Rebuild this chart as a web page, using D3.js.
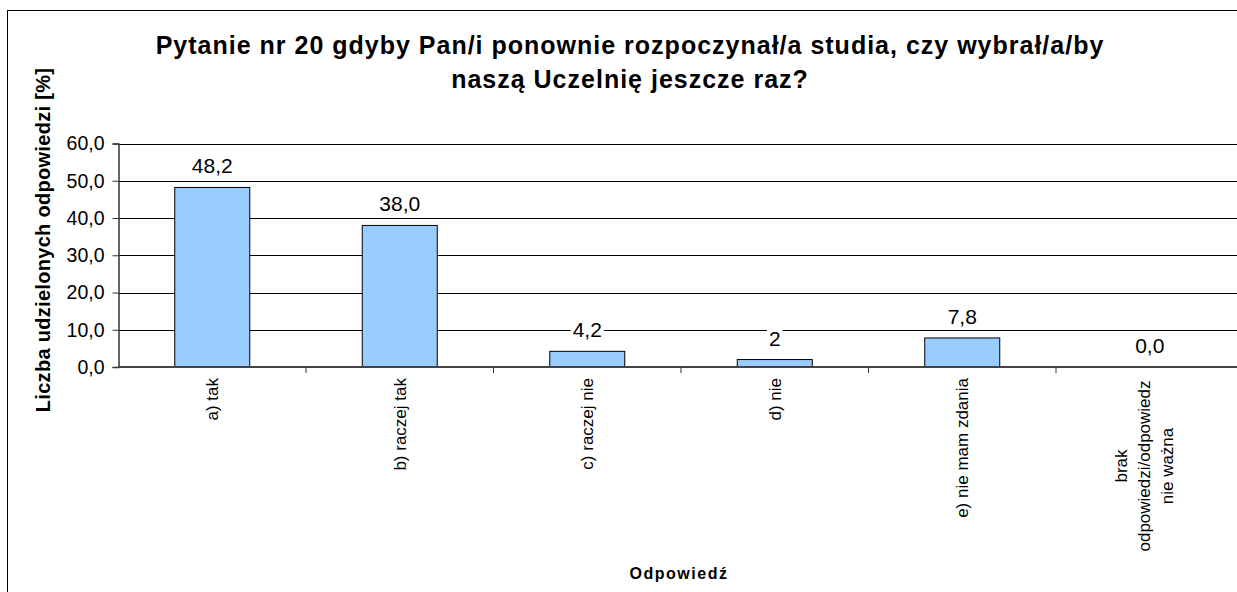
<!DOCTYPE html>
<html><head><meta charset="utf-8">
<script src="https://cdn.jsdelivr.net/npm/d3@7"></script>
<style>body{margin:0;background:#fff}svg{display:block;font-family:Arial,"Liberation Sans",sans-serif}</style>
</head><body><svg id="c" width="1237" height="592"></svg>
<script>
const categories = ["a) tak","b) raczej tak","c) raczej nie","d) nie","e) nie mam zdania","brak\nodpowiedzi/odpowiedz\nnie ważna"];
const values = [48.2, 38.0, 4.2, 2, 7.8, 0.0];
const valueLabels = ["48,2","38,0","4,2","2","7,8","0,0"];
const yTicks = [0,10,20,30,40,50,60];
const yTickLabels = ["0,0","10,0","20,0","30,0","40,0","50,0","60,0"];
const titleLines = ["Pytanie nr 20 gdyby Pan/i ponownie rozpoczynał/a studia, czy wybrał/a/by","naszą Uczelnię jeszcze raz?"];

const svg = d3.select("#c");
svg.append("rect").attr("x",7.5).attr("y",10.5).attr("width",1250).attr("height",600).attr("fill","#fff").attr("stroke","#000").attr("stroke-width",1);

const L=118.5, R=1243.5, T=143.5, B=367;
const x = d3.scaleBand().domain(d3.range(categories.length)).range([L,R]);
const y = d3.scaleLinear().domain([0,60]).range([B,T]);

// gridlines
svg.append("g").selectAll("line").data(yTicks.filter(d=>d>0)).join("line")
  .attr("x1",L).attr("x2",R).attr("y1",d=>Math.round(y(d))+0.5).attr("y2",d=>Math.round(y(d))+0.5)
  .attr("stroke","#000").attr("stroke-width",1);

// bars
const bw = x.bandwidth()*0.4;
svg.append("g").selectAll("rect").data(values).join("rect")
  .attr("x",(d,i)=>x(i)+x.bandwidth()/2-bw/2).attr("width",bw)
  .attr("y",d=>y(d)).attr("height",d=>B-y(d))
  .attr("fill","#99ccff").attr("stroke","#000").attr("stroke-width",1)
  .attr("display",d=>d>0?null:"none");

// y axis
const yAxis = d3.axisLeft(y).tickValues(yTicks).tickFormat((d,i)=>yTickLabels[i]).tickSize(6).tickPadding(8);
const gy = svg.append("g").attr("transform",`translate(${L},0)`).call(yAxis);
gy.select(".domain").attr("stroke","#333").attr("stroke-width",1.5);
gy.selectAll(".tick line").attr("stroke","#333");
gy.selectAll("text").attr("font-size",19.5).attr("fill","#000").attr("font-family","Arial, 'Liberation Sans', sans-serif");

// x axis line
svg.append("line").attr("x1",L).attr("x2",R).attr("y1",B).attr("y2",B).attr("stroke","#444").attr("stroke-width",2);
// x ticks at band boundaries
svg.append("g").selectAll("line").data(d3.range(1,categories.length)).join("line")
  .attr("x1",i=>x(i)).attr("x2",i=>x(i)).attr("y1",B).attr("y2",B+6).attr("stroke","#333");

// category labels
const cl = svg.append("g").selectAll("text").data(categories).join("text")
  .attr("transform",(d,i)=>`translate(${x(i)+x.bandwidth()/2},378) rotate(-90)`)
  .attr("text-anchor","end").attr("font-size",17).attr("fill","#000");
cl.each(function(d){
  const lines=d.split("\n"); const n=lines.length; const t=d3.select(this);
  if(n===1){ t.append("tspan").attr("x",0).attr("dy","0.35em").text(d); }
  else {
    t.attr("text-anchor","middle");
    lines.forEach((ln,k)=>t.append("tspan").attr("x",-88).attr("y",(k-(n-1)/2)*23-6).attr("dy","0.35em").text(ln));
  }
});

// value labels with white background
const vl = svg.append("g");
values.forEach((v,i)=>{
  const g = vl.append("g");
  const t = g.append("text").attr("x",x(i)+x.bandwidth()/2).attr("y",y(v)-14)
    .attr("text-anchor","middle").attr("font-size",21).attr("fill","#000").text(valueLabels[i]);
  const bb = t.node().getBBox();
  g.insert("rect","text").attr("x",bb.x-2).attr("y",bb.y+2).attr("width",bb.width+4).attr("height",bb.height-3).attr("fill","#fff");
});

// title
svg.append("text").attr("font-size",25).attr("font-weight","bold").attr("text-anchor","middle").attr("letter-spacing",1)
  .selectAll("tspan").data(titleLines).join("tspan").attr("x",630).attr("y",(d,i)=>54+i*34).text(d=>d);

// axis titles
svg.append("text").attr("transform","translate(50,240) rotate(-90)").attr("text-anchor","middle")
  .attr("font-size",20).attr("font-weight","bold").attr("letter-spacing",0.3).text("Liczba udzielonych odpowiedzi [%]");
svg.append("text").attr("x",679).attr("y",579).attr("text-anchor","middle").attr("font-size",16).attr("letter-spacing",1.5).attr("font-weight","bold").text("Odpowiedź");
</script></body></html>
